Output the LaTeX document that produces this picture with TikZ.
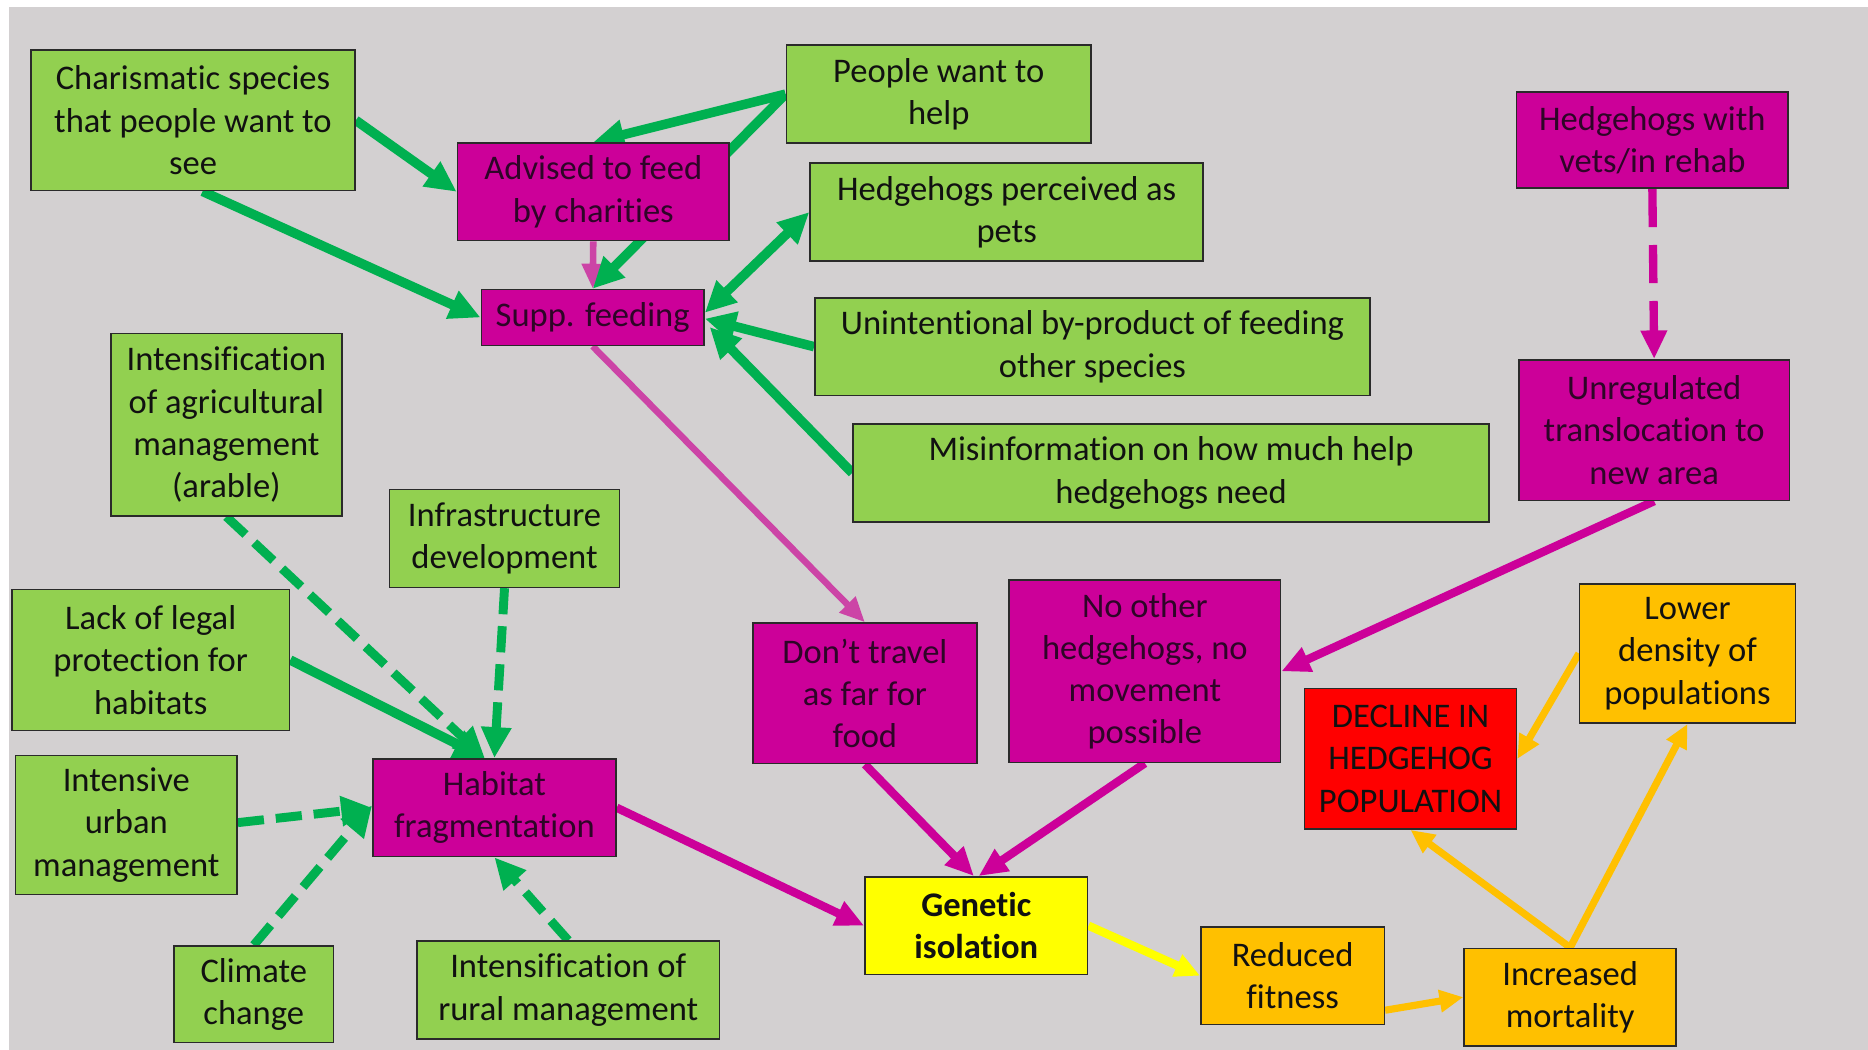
\documentclass[tikz,border=0pt]{standalone}
\usepackage{fontspec}
\setmainfont{Carlito}[Ligatures=NoCommon]
\usetikzlibrary{arrows.meta}
\pgfdeclarelayer{paper}
\pgfdeclarelayer{back}
\pgfsetlayers{paper,back,main}

\definecolor{canvas}{HTML}{D3D0D1}
\definecolor{leaf}{HTML}{92D050}
\definecolor{plum}{HTML}{CC0099}
\definecolor{lemon}{HTML}{FFFF00}
\definecolor{amber}{HTML}{FFC000}
\definecolor{alarm}{HTML}{FF0000}
\definecolor{boxline}{HTML}{2A2A2A}
\definecolor{ink}{HTML}{111111}
\definecolor{plumink}{HTML}{2E0527}
\definecolor{arrgreen}{HTML}{00B050}
\definecolor{arrplum}{HTML}{CC0099}
\definecolor{arrpink}{HTML}{CC44A6}

\begin{document}
\begin{tikzpicture}[x=1pt,y=-1pt,
  box/.style={draw=boxline, line width=1.3pt, inner sep=0pt, align=center,
              font=\fontsize{29}{35.5}\selectfont},
  sz/.style 2 args={minimum width=#1, minimum height=#2},
  gbox/.style={box, fill=leaf, text=ink},
  mbox/.style={box, fill=plum, text=plumink},
  ybox/.style={box, fill=lemon, text=ink},
  obox/.style={box, fill=amber, text=ink},
  rbox/.style={box, fill=alarm, text=ink},
  gtip/.style={-{Triangle[length=26pt,width=24pt]}},
  garrow/.style={draw=arrgreen, line width=8pt, gtip},
  gdashed/.style={draw=arrgreen, line width=7.5pt, gtip, dash pattern=on 22pt off 10pt},
  marrow/.style={draw=arrplum, line width=7pt, -{Triangle[length=24pt,width=21pt]}},
  parrow/.style={draw=arrpink, line width=5.5pt, -{Triangle[length=21pt,width=18pt]}},
  mdashed/.style={marrow, line width=7pt, dash pattern=on 32pt off 15pt},
  oarrow/.style={draw=amber, line width=6pt, -{Triangle[length=20pt,width=18pt]}},
  yarrow/.style={draw=lemon, line width=7pt, -{Triangle[length=21pt,width=19pt]}}
]
\useasboundingbox (0,0) rectangle (1568,881);
\begin{pgfonlayer}{paper}
  \fill[white] (0,0) rectangle (1568,881);
  \fill[canvas] (7.5,6) rectangle (1568,881);
\end{pgfonlayer}

% green causes
\node[gbox, sz={272pt}{118pt}] (charis) at (162,101) {Charismatic species\\that people want to\\see};
\node[gbox, sz={256pt}{82pt}] (people) at (788,79) {People want to\\help};
\node[gbox, sz={330pt}{82pt}] (pets) at (845,178) {Hedgehogs perceived as\\pets};
\node[gbox, sz={466pt}{82pt}] (unint) at (917,291) {Unintentional by-product of feeding\\other species};
\node[gbox, sz={534pt}{82pt}] (misinfo) at (983,397) {Misinformation on how much help\\hedgehogs need};
\node[gbox, sz={194pt}{153pt}] (agri) at (190,356.5) {Intensification\\of agricultural\\management\\(arable)};
\node[gbox, sz={193pt}{82pt}] (infra) at (423.5,452) {Infrastructure\\development};
\node[gbox, sz={233pt}{118pt}] (legal) at (126.5,554) {Lack of legal\\protection for\\habitats};
\node[gbox, sz={186pt}{117pt}] (urban) at (106,692.5) {Intensive\\urban\\management};
\node[gbox, sz={134pt}{81pt}] (climate) at (213,834.5) {Climate\\change};
\node[gbox, sz={254pt}{82pt}] (rural) at (477,831) {Intensification of\\rural management};

% magenta effects
\node[mbox, sz={228pt}{82pt}] (advised) at (498,161) {Advised to feed\\by charities};
\node[mbox, sz={187pt}{47pt}] (supp) at (497.5,266.5) {Supp. feeding};
\node[mbox, sz={228pt}{81pt}] (vets) at (1387,117.5) {Hedgehogs with\\vets/in rehab};
\node[mbox, sz={227pt}{118pt}] (unreg) at (1388.5,361) {Unregulated\\translocation to\\new area};
\node[mbox, sz={204pt}{82pt}] (habitat) at (415,678) {Habitat\\fragmentation};
\node[mbox, sz={188pt}{118pt}] (travel) at (726,582) {Don’t travel\\as far for\\food};
\node[mbox, sz={228pt}{153pt}] (noother) at (961,563.5) {No other\\hedgehogs, no\\movement\\possible};

% outcomes
\node[ybox, sz={187pt}{82pt}, font=\fontsize{29}{35.5}\selectfont\bfseries] (genetic) at (819.5,777) {Genetic\\isolation};
\node[obox, sz={154pt}{82pt}] (reduced) at (1085,819) {Reduced\\fitness};
\node[obox, sz={178pt}{82pt}] (mortality) at (1318,837) {Increased\\mortality};
\node[obox, sz={181pt}{117pt}] (lower) at (1416.5,548.5) {Lower\\density of\\populations};
\node[rbox, sz={178pt}{118pt}] (decline) at (1184,637) {DECLINE IN\\HEDGEHOG\\POPULATION};

\begin{pgfonlayer}{back}
  % feeding cluster
  \draw[parrow] (advised.south) -- (supp.north);
  \draw[garrow] (people.west) -- (advised.north);
  \draw[garrow] (people.west) -- (supp.north);
  \draw[garrow] (charis.east) -- (advised.west);
  \draw[garrow] ([xshift=8pt]charis.south) -- (supp.west);
  \draw[garrow, {Triangle[length=26pt,width=24pt]}-{Triangle[length=26pt,width=24pt]}] ([yshift=4pt]supp.east) -- (pets.west);
  \draw[garrow] (unint.west) -- ([yshift=-1pt]supp.east);
  \draw[garrow] (misinfo.west) -- ([xshift=4pt,yshift=-8pt]supp.east);
  \draw[parrow] (supp.south) -- (travel.north);

  % translocation
  \draw[mdashed] (vets.south) -- (unreg.north);
  \draw[marrow] (unreg.south) -- (noother.east);

  % habitat fragmentation drivers
  \draw[gdashed] (agri.south) -- ([xshift=-8pt]habitat.north);
  \draw[gdashed] (infra.south) -- (habitat.north);
  \draw[garrow] (legal.east) -- ([xshift=-8pt]habitat.north);
  \draw[gdashed] ([yshift=2pt]urban.east) -- (habitat.west);
  \draw[gdashed] (climate.north) -- ([yshift=2pt]habitat.west);
  \draw[gdashed] (rural.north) -- (habitat.south);

  % towards genetic isolation
  \draw[marrow] (travel.south) -- ([xshift=-2pt]genetic.north);
  \draw[marrow] (noother.south) -- ([xshift=2pt]genetic.north);
  \draw[marrow] (habitat.east) -- (genetic.west);

  % consequences
  \draw[yarrow] (genetic.east) -- (reduced.west);
  \draw[oarrow] ([yshift=-29pt]reduced.east) -- (mortality.west);
  \draw[oarrow] (mortality.north) -- (decline.south);
  \draw[oarrow] (mortality.north) -- (lower.south);
  \draw[oarrow] (lower.west) -- (decline.east);
\end{pgfonlayer}
\end{tikzpicture}
\end{document}
